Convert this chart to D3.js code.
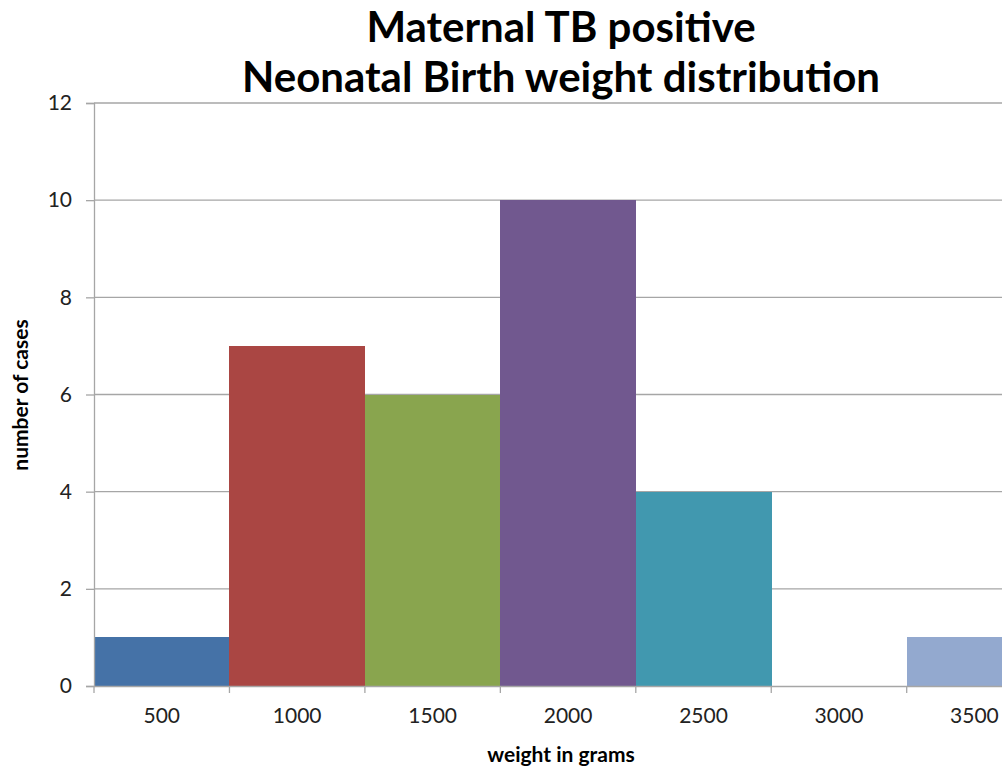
<!DOCTYPE html>
<html>
<head>
<meta charset="utf-8">
<script src="https://cdn.jsdelivr.net/npm/d3@7"></script>
<style>
  body { margin: 0; background: #fff; }
  svg { display: block; font-family: Lato, "Open Sans", sans-serif; }
</style>
</head>
<body>
<div id="chart"></div>
<script>
// weight bins and counts
var weights = ['500', '1000', '1500', '2000', '2500', '3000', '3500'];
var cases = [1, 7, 6, 10, 4, 0, 1];
var barColors = ['#4572A7', '#AA4643', '#89A54E', '#71588F', '#4198AF', '#DB843D', '#93A9CF'];
var yTicks = [0, 2, 4, 6, 8, 10, 12];

var width = 1002, height = 768;
var plotLeft = 94, plotTop = 103, plotBottom = 686;
var step = 135.45;
var gridColor = '#a6a6a6';

var svg = d3.select('#chart').append('svg')
    .attr('width', width)
    .attr('height', height);

var x = d3.scaleBand()
    .domain(weights)
    .range([plotLeft, plotLeft + step * weights.length])
    .padding(0);

var y = d3.scaleLinear()
    .domain([0, 12])
    .range([plotBottom, plotTop]);

// horizontal gridlines
svg.append('g')
    .selectAll('line')
    .data(yTicks.slice(1))
    .enter().append('line')
    .attr('x1', plotLeft)
    .attr('x2', width)
    .attr('y1', function (d) { return y(d); })
    .attr('y2', function (d) { return y(d); })
    .attr('stroke', gridColor)
    .attr('stroke-width', 1.3);

// bars (crisp edges so neighbouring bins touch without a seam)
svg.append('g')
    .attr('shape-rendering', 'crispEdges')
    .selectAll('rect')
    .data(cases)
    .enter().append('rect')
    .attr('x', function (d, i) { return x(weights[i]); })
    .attr('y', function (d) { return y(d); })
    .attr('width', x.bandwidth() + 0.5)
    .attr('height', function (d) { return plotBottom - y(d); })
    .attr('fill', function (d, i) { return barColors[i]; });

// y axis
var yAxis = svg.append('g')
    .attr('transform', 'translate(' + plotLeft + ',0)')
    .call(d3.axisLeft(y).tickValues(yTicks).tickSize(8).tickPadding(14));
yAxis.attr('font-family', 'Lato, sans-serif').attr('font-size', 21);
yAxis.select('.domain').attr('stroke', gridColor).attr('stroke-width', 1.3);
yAxis.selectAll('.tick line').attr('stroke', gridColor).attr('stroke-width', 1.3);
yAxis.selectAll('.tick text').attr('fill', '#222');

// x axis: ticks sit on the bin edges
var xAxis = svg.append('g')
    .attr('transform', 'translate(0,' + plotBottom + ')')
    .call(d3.axisBottom(x).tickSize(0).tickPadding(22));
xAxis.attr('font-family', 'Lato, sans-serif').attr('font-size', 21);
xAxis.select('.domain').attr('stroke', gridColor).attr('stroke-width', 1.3);
xAxis.selectAll('.tick text').attr('fill', '#222');

svg.append('g')
    .selectAll('line')
    .data(weights)
    .enter().append('line')
    .attr('x1', function (d) { return x(d); })
    .attr('x2', function (d) { return x(d); })
    .attr('y1', plotBottom)
    .attr('y2', plotBottom + 7)
    .attr('stroke', gridColor)
    .attr('stroke-width', 1.3);

// titles
svg.append('text')
    .attr('x', 561)
    .attr('y', 42)
    .attr('text-anchor', 'middle')
    .attr('font-size', 42)
    .attr('font-weight', 'bold')
    .text('Maternal TB positive');

svg.append('text')
    .attr('x', 561)
    .attr('y', 92)
    .attr('text-anchor', 'middle')
    .attr('font-size', 42)
    .attr('font-weight', 'bold')
    .text('Neonatal Birth weight distribution');

svg.append('text')
    .attr('x', 561)
    .attr('y', 762)
    .attr('text-anchor', 'middle')
    .attr('font-size', 21)
    .attr('font-weight', 'bold')
    .text('weight in grams');

svg.append('text')
    .attr('transform', 'translate(28,395) rotate(-90)')
    .attr('text-anchor', 'middle')
    .attr('font-size', 21)
    .attr('font-weight', 'bold')
    .text('number of cases');
</script>
</body>
</html>
